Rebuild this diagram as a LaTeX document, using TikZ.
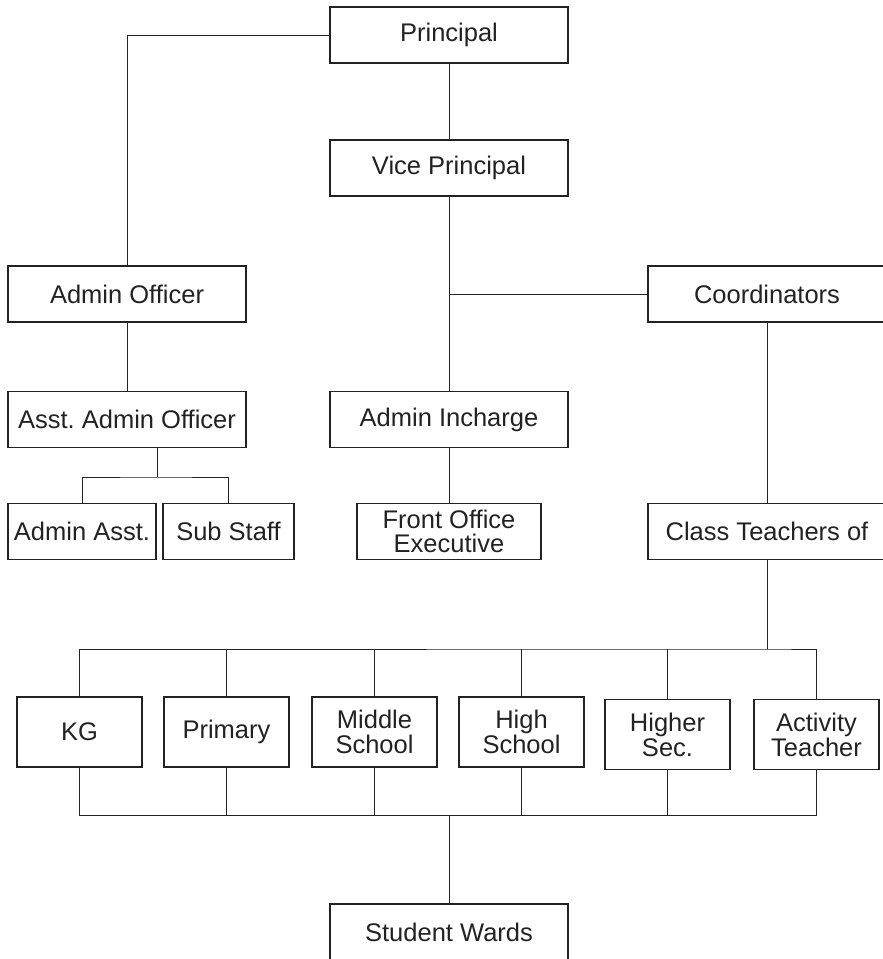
\documentclass[tikz,border=0pt]{standalone}
\usepackage{fontspec}
\setmainfont{Liberation Sans}
\frenchspacing
\definecolor{ink}{HTML}{222222}
\begin{document}
\begin{tikzpicture}[x=1pt,y=-1pt,
  box/.style={draw=ink,line width=1.2pt,inner sep=0pt,minimum height=56pt,text=ink,
    font=\fontsize{25.5}{25}\selectfont,align=center},
  wide/.style={box,minimum width=238pt},
  kid/.style={box,minimum width=125pt,minimum height=70pt},
  conn/.style={draw=ink,line width=0.9pt}]
\useasboundingbox (0,0) rectangle (883,959);
\node[wide] (pr) at (449,35) {Principal};
\node[wide] (vp) at (449,168) {Vice Principal};
\node[wide] (ao) at (127,294) {Admin Officer};
\node[wide] (co) at (767,294) {Coordinators};
\node[wide] (aao) at (127,419.5) {Asst.\ Admin Officer};
\node[wide] (ai) at (449,419.5) {Admin Incharge};
\node[box,minimum width=148pt] (aa) at (82,531.5) {Admin Asst.};
\node[box,minimum width=131pt] (ss) at (228.5,531.5) {Sub Staff};
\node[box,minimum width=184pt,font=\fontsize{25.5}{23.5}\selectfont] (fo) at (449,531.5) {Front Office\\Executive};
\node[wide] (ct) at (767,531.5) {Class Teachers of};
\node[kid] (kg) at (79.5,732) {KG};
\node[kid] (pm) at (226.5,732) {Primary};
\node[kid] (ms) at (374.5,732) {Middle\\School};
\node[kid] (hs) at (521.5,732) {High\\School};
\node[kid] (hsec) at (667.5,734.5) {Higher\\Sec.};
\node[kid] (at) at (816.5,734.5) {Activity\\Teacher};
\node[wide] (sw) at (449,932) {Student Wards};
% coordinates
\coordinate (jaao) at (157,477);
\coordinate (jtop) at (767,649);
\coordinate (jbot) at (449,815);
% connectors
\draw[conn] (pr.west) -| (ao.north);
\draw[conn] (pr.south) -- (vp.north);
\draw[conn] (vp.south) -- (ai.north);
\draw[conn] (vp.south |- co.west) -- (co.west);
\draw[conn] (ao.south) -- (aao.north);
\draw[conn] (aao.south -| jaao) -- (jaao);
\draw[conn] (aa.north) |- (jaao) -| (ss.north);
\draw[conn] (ai.south) -- (fo.north);
\draw[conn] (co.south) -- (ct.north);
\draw[conn] (ct.south) -- (jtop);
\draw[conn] (kg.north) |- (jtop) -| (at.north);
\foreach \n in {pm,ms,hs,hsec} \draw[conn] (\n.north) -- (\n.north |- jtop);
\draw[conn] (kg.south) |- (jbot) -| (at.south);
\foreach \n in {pm,ms,hs,hsec} \draw[conn] (\n.south) -- (\n.south |- jbot);
\draw[conn] (jbot) -- (sw.north);
\end{tikzpicture}
\end{document}
